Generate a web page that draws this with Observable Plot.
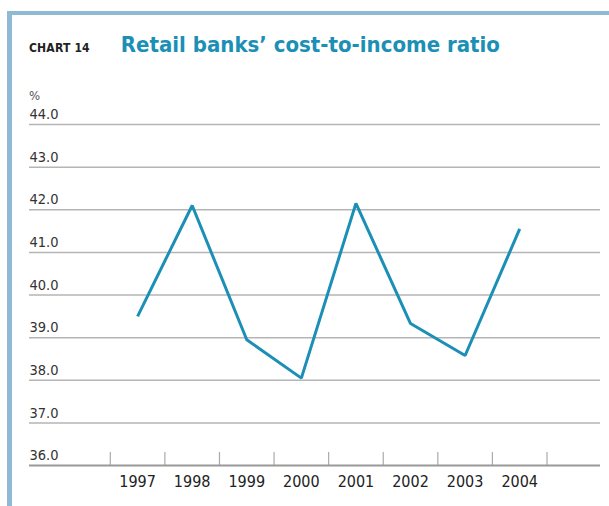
<!DOCTYPE html>
<html>
<head>
<meta charset="utf-8">
<script src="https://cdn.jsdelivr.net/npm/d3@7"></script>
<script src="https://cdn.jsdelivr.net/npm/@observablehq/plot@0.6"></script>
<style>
  html, body { margin: 0; padding: 0; background: #fff; }
  #wrap { position: relative; width: 609px; height: 506px; overflow: hidden; font-family: "DejaVu Sans Condensed", "DejaVu Sans", sans-serif; }
  #top { position: absolute; left: 7px; top: 11px; width: 610px; height: 4px; background: #8fb9d4; }
  #left { position: absolute; left: 7px; top: 11px; width: 5px; height: 500px; background: #8fb9d4; }
  #title { position: absolute; left: 29px; top: 32px; white-space: nowrap; }
  #title .num { font-size: 12px; font-weight: bold; color: #222; letter-spacing: 0.2px; }
  #title .main { font-size: 22px; font-weight: bold; color: #1b8fb5; margin-left: 31px; }
  #unit { position: absolute; left: 29px; top: 88px; font-size: 13px; color: #555; }
  #chart { position: absolute; left: 0; top: 0; }
</style>
</head>
<body>
<div id="wrap">
  <div id="top"></div>
  <div id="left"></div>
  <div id="title"><span class="num">CHART 14</span><span class="main">Retail banks’ cost-to-income ratio</span></div>
  <div id="unit">%</div>
  <div id="chart"></div>
</div>
<script>
const years = [1997, 1998, 1999, 2000, 2001, 2002, 2003, 2004];
const ratio = [39.5, 42.1, 38.95, 38.05, 42.15, 39.33, 38.58, 41.55];
const yTicks = [36, 37, 38, 39, 40, 41, 42, 43, 44];
const boundaries = [1996.5, 1997.5, 1998.5, 1999.5, 2000.5, 2001.5, 2002.5, 2003.5, 2004.5];

const data = years.map((y, i) => ({year: y, value: ratio[i]}));

const plot = Plot.plot({
  width: 609,
  height: 506,
  marginLeft: 29,
  marginRight: 9,
  marginTop: 124,
  marginBottom: 41,
  style: {fontFamily: "DejaVu Sans Condensed, DejaVu Sans, sans-serif", background: "transparent", overflow: "visible"},
  x: {domain: [1995.02, 2005.48], axis: null},
  y: {domain: [36, 44], axis: null},
  marks: [
    Plot.ruleY(yTicks.filter(d => d > 36), {y: d => d, stroke: "#b5b5b5", strokeWidth: 1.5}),
    Plot.text(yTicks, {y: d => d, frameAnchor: "left", textAnchor: "start", text: d => d.toFixed(1), dy: -10, fontSize: 14.5, fill: "#333"}),
    Plot.axisX({ticks: boundaries, tickSize: -13, text: null, stroke: "#aaa", strokeWidth: 1.2, label: null}),
    Plot.ruleY([36], {stroke: "#999", strokeWidth: 2}),
    Plot.axisX({ticks: years, tickSize: 0, tickPadding: 10, tickFormat: d => String(d), fontSize: 16, fill: "#222", label: null}),
    Plot.line(data, {x: "year", y: "value", stroke: "#1b8fb5", strokeWidth: 3, strokeLinejoin: "miter", strokeLinecap: "butt"})
  ]
});
document.getElementById("chart").appendChild(plot);
</script>
</body>
</html>
